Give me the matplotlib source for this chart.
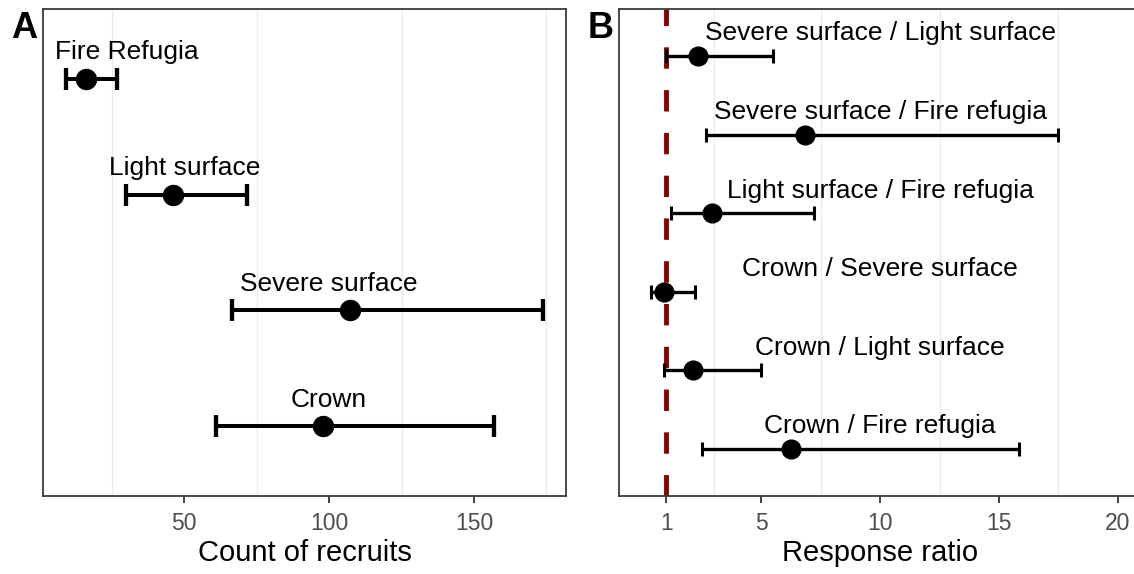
import matplotlib.pyplot as plt
from matplotlib.ticker import FixedLocator

plt.rcParams['font.family'] = ['Liberation Sans', 'DejaVu Sans']

# panel A: count of recruits by fire class
groups = ["Fire Refugia", "Light surface", "Severe surface", "Crown"]
counts = [16.0, 46.0, 107.2, 97.8]
count_lo = [9.1, 29.8, 66.3, 60.8]
count_hi = [26.7, 71.5, 173.8, 157.0]
count_label_x = [30, 50, 100, 100]

# panel B: response ratios
pairs = ["Severe surface / Light surface", "Severe surface / Fire refugia",
         "Light surface / Fire refugia", "Crown / Severe surface",
         "Crown / Light surface", "Crown / Fire refugia"]
ratios = [2.31, 6.85, 2.93, 0.89, 2.12, 6.26]
ratio_lo = [1.0, 2.68, 1.19, 0.37, 0.89, 2.49]
ratio_hi = [5.50, 17.5, 7.22, 2.22, 4.96, 15.82]
ratio_label_x = 10

fig = plt.figure(figsize=(11.34, 5.74), dpi=100)
axA = fig.add_axes([0.0382, 0.1359, 0.4609, 0.8484])
axB = fig.add_axes([0.5458, 0.1359, 0.4609, 0.8484])


def style(ax):
    for s in ax.spines.values():
        s.set_color('#3A3A3A')
        s.set_linewidth(1.3)
    ax.tick_params(axis='x', length=5, width=1.3, color='#333333',
                   labelcolor='#4D4D4D', labelsize=16.5, pad=6.5)
    ax.tick_params(axis='y', left=False, labelleft=False)
    ax.grid(False)
    ax.grid(True, which='minor', axis='x', color='#EBEBEB', lw=1.0)
    ax.tick_params(axis='x', which='minor', length=0)
    ax.set_axisbelow(True)


# ---- panel A
ypos = list(range(len(groups)))
err = [[c - l for c, l in zip(counts, count_lo)],
       [h - c for c, h in zip(counts, count_hi)]]
axA.errorbar(counts, ypos, xerr=err, fmt='o', color='black', ms=14.4,
             elinewidth=2.9, capsize=8.2, capthick=3.1, zorder=3)
for x, y, g in zip(count_label_x, ypos, groups):
    axA.text(x, y - 0.165, g, ha='center', va='baseline', fontsize=19)
axA.set_xlim(1.3, 181.8)
axA.set_ylim(len(groups) - 0.4, -0.6)
axA.set_xticks([50, 100, 150])
axA.xaxis.set_minor_locator(FixedLocator([25, 75, 125, 175]))
style(axA)
axA.set_xlabel("Count of recruits", fontsize=21, labelpad=3)

# ---- panel B
ypos = list(range(len(pairs)))
err = [[r - l for r, l in zip(ratios, ratio_lo)],
       [h - r for r, h in zip(ratios, ratio_hi)]]
axB.axvline(1, color='#8B0000', lw=3.5, dashes=(4.4, 4.4), zorder=2)
axB.errorbar(ratios, ypos, xerr=err, fmt='o', color='black', ms=13.5,
             elinewidth=2.4, capsize=5.2, capthick=2.2, zorder=3)
for y, p in zip(ypos, pairs):
    axB.text(ratio_label_x, y - 0.2, p, ha='center', va='baseline', fontsize=19)
axB.set_xlim(-1, 21)
axB.set_ylim(len(pairs) - 0.4, -0.6)
axB.set_xticks([1, 5, 10, 15, 20])
axB.xaxis.set_minor_locator(FixedLocator([3, 7.5, 12.5, 17.5]))
style(axB)
axB.set_xlabel("Response ratio", fontsize=21, labelpad=3)

fig.text(0.0212, 0.9503, "A", fontsize=26, fontweight='bold', ha='center', va='center')
fig.text(0.530, 0.9503, "B", fontsize=26, fontweight='bold', ha='center', va='center')

fig.savefig("out.png", dpi=100)
